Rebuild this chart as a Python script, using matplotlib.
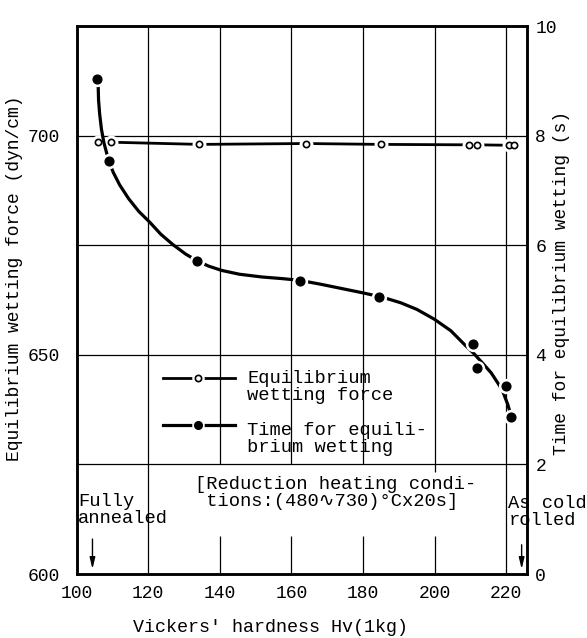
import matplotlib
matplotlib.use("Agg")
import matplotlib.pyplot as plt

# フォント（タイプライター風）
FONT = ['Liberation Mono', 'DejaVu Sans Mono', 'DejaVu Sans']
plt.rcParams['font.family'] = FONT
plt.rcParams['font.size'] = 13.5

# 平衡ぬれ力 (dyn/cm)
hv_force = [106.0, 109.6, 134.3, 164.0, 185.0, 209.6, 211.9, 220.8, 222.1]
force = [698.5, 698.5, 698.0, 698.2, 698.0, 697.9, 697.9, 697.8, 697.8]

# 平衡ぬれ時間 (s)
hv_time = [105.8, 108.9, 133.7, 162.5, 184.5, 210.7, 211.9, 220.0, 221.2]
time_s = [9.03, 7.53, 5.71, 5.35, 5.06, 4.19, 3.76, 3.43, 2.86]

# 図から読み取ったフィット曲線
curve_hv = [106.0, 106.1, 106.4, 106.9, 107.6, 108.9, 110.2, 112.0, 114.5,
            117.3, 120.4, 123.5, 126.9, 130.4, 133.5, 136.8, 140.5, 145.5,
            151.8, 157.5, 162.2, 168.0, 174.0, 180.0, 185.5, 190.5, 195.0,
            199.9, 204.5, 208.3, 211.0, 213.5, 215.8, 217.7, 219.0, 219.8,
            220.4, 220.8]
curve_t = [8.89, 8.65, 8.40, 8.12, 7.87, 7.55, 7.33, 7.10, 6.85,
           6.62, 6.42, 6.20, 6.01, 5.84, 5.72, 5.62, 5.54, 5.47,
           5.42, 5.39, 5.36, 5.29, 5.21, 5.13, 5.05, 4.95, 4.83,
           4.65, 4.44, 4.19, 4.02, 3.84, 3.67, 3.48, 3.34, 3.20,
           3.10, 3.01]

x_ticks = [100, 120, 140, 160, 180, 200, 220]
left_ticks = [600, 625, 650, 675, 700]
left_labels = ['600', '', '650', '', '700']
right_ticks = [0, 2, 4, 6, 8, 10]

# 縦グリッド線（上部と下部の切れ目）
grid_full = [120, 220]
grid_part = [140, 160, 180, 200]
grid_part_top_end = [625, 625, 625, 623.3]
grid_stub_top = 608.6

fig = plt.figure(figsize=(5.87, 6.38), dpi=100)
ax = fig.add_axes([0.1307, 0.1003, 0.7671, 0.8589])
ax.set_xlim(100, 225.8)
ax.set_ylim(600, 725)

for y in left_ticks[1:]:
    ax.axhline(y, color='black', lw=0.9, zorder=1)
ax.vlines(grid_full, 600, 725, color='black', lw=0.9, zorder=1)
ax.vlines(grid_part, grid_part_top_end, 725, color='black', lw=0.9, zorder=1)
ax.vlines(grid_part, 600, grid_stub_top, color='black', lw=0.9, zorder=1)

ax.set_xticks(x_ticks)
ax.set_yticks(left_ticks)
ax.set_yticklabels(left_labels)
ax.tick_params(axis='x', length=0, pad=8, labelsize=13)
ax.tick_params(axis='y', length=0, pad=12, labelsize=13)
for s in ax.spines.values():
    s.set_linewidth(1.8)

# 平衡ぬれ力
ax.plot(hv_force, force, '-', color='black', lw=2.0, zorder=3)
ax.plot(hv_force, force, 'o', ms=9, color='white', mec='white', zorder=4)
ax.plot(hv_force, force, 'o', ms=4.5, mfc='white', mec='black', mew=1.2, zorder=5)

ax2 = ax.twinx()
ax2.set_ylim(0, 10)
ax2.set_yticks(right_ticks)
ax2.tick_params(axis='y', length=0, pad=6, labelsize=13)
for s in ax2.spines.values():
    s.set_linewidth(1.8)

# 平衡ぬれ時間
ax2.plot(curve_hv, curve_t, '-', color='black', lw=2.3, zorder=3)
ax2.plot(hv_time, time_s, 'o', ms=10, color='white', mec='white', zorder=4)
ax2.plot(hv_time, time_s, 'o', ms=6.3, color='black', mec='black', zorder=5)

# 凡例（手描き）
ax.plot([124.2, 144.2], [644.7, 644.7], '-', color='black', lw=2.0, zorder=3)
ax.plot([133.9], [644.7], 'o', ms=8, color='white', mec='white', zorder=4)
ax.plot([133.9], [644.7], 'o', ms=4.5, mfc='white', mec='black', mew=1.2, zorder=5)
ax.text(147.7, 642.7, 'Equilibrium\nwetting force', ha='left', va='center',
        linespacing=1.0, zorder=6)
ax.plot([124.2, 144.2], [633.9, 633.9], '-', color='black', lw=2.3, zorder=3)
ax.plot([133.9], [633.9], 'o', ms=8, color='white', mec='white', zorder=4)
ax.plot([133.9], [633.9], 'o', ms=5.5, color='black', zorder=5)
ax.text(147.7, 630.75, 'Time for equili-\nbrium wetting', ha='left', va='center',
        linespacing=1.0, zorder=6)

# 注記
ax.text(133.0, 618.5, '[Reduction heating condi-\n tions:(480∿730)°Cx20s]',
        ha='left', va='center', linespacing=1.0, zorder=6)
ax.text(100.45, 614.7, 'Fully\nannealed', ha='left', va='center',
        linespacing=1.0, zorder=6)
ax.text(220.6, 614.1, 'As cold\nrolled', ha='left', va='center',
        linespacing=1.0, zorder=6, clip_on=False)
ax.annotate('', xy=(104.4, 600.5), xytext=(104.4, 608.6),
            arrowprops=dict(arrowstyle='-|>,head_length=0.5,head_width=0.12',
                            color='black', lw=1.0))
ax.annotate('', xy=(224.3, 600.5), xytext=(224.3, 607.3),
            arrowprops=dict(arrowstyle='-|>,head_length=0.5,head_width=0.12',
                            color='black', lw=1.0))

fig.text(270.5 / 587, 1 - 628 / 638, "Vickers' hardness Hv(1kg)",
         ha='center', va='center', fontsize=13.2)
fig.text(15 / 587, 1 - 278 / 638, 'Equilibrium wetting force (dyn/cm)',
         rotation=90, ha='center', va='center', fontsize=13)
fig.text(561.6 / 587, 1 - 283 / 638, 'Time for equilibrium wetting (s)',
         rotation=90, ha='center', va='center', fontsize=13)

fig.savefig('out.png', dpi=100)
